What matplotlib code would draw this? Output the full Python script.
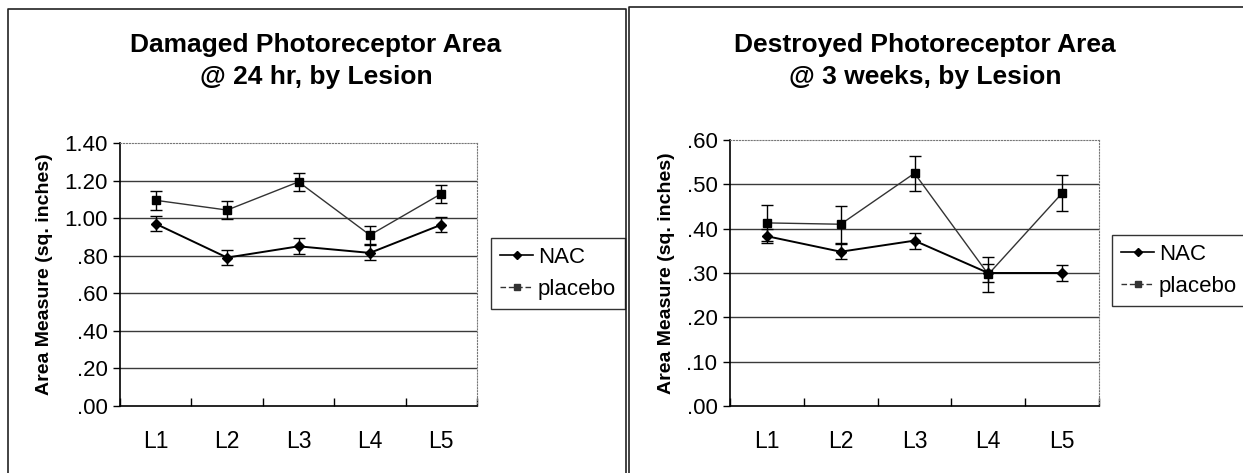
import matplotlib
matplotlib.use("Agg")
import matplotlib.pyplot as plt
from matplotlib.lines import Line2D
import numpy as np

plt.rcParams['font.family'] = ['Liberation Sans', 'DejaVu Sans']

lesions = ["L1", "L2", "L3", "L4", "L5"]

# Panel 1: Damaged @ 24 hr
dam_nac = [0.97, 0.79, 0.85, 0.815, 0.965]
dam_nac_err = [0.04, 0.042, 0.042, 0.04, 0.04]
dam_pla = [1.095, 1.043, 1.193, 0.91, 1.13]
dam_pla_err = [0.05, 0.05, 0.048, 0.05, 0.048]

# Panel 2: Destroyed @ 3 weeks
des_nac = [0.383, 0.348, 0.373, 0.30, 0.30]
des_nac_err = [0.016, 0.017, 0.018, 0.02, 0.018]
des_pla = [0.413, 0.41, 0.525, 0.297, 0.48]
des_pla_err = [0.04, 0.042, 0.04, 0.04, 0.04]

titles = ["Damaged Photoreceptor Area\n@ 24 hr, by Lesion",
          "Destroyed Photoreceptor Area\n@ 3 weeks, by Lesion"]
yticks1 = [0.0, 0.2, 0.4, 0.6, 0.8, 1.0, 1.2, 1.4]
yticklabels1 = [".00", ".20", ".40", ".60", ".80", "1.00", "1.20", "1.40"]
yticks2 = [0.0, 0.1, 0.2, 0.3, 0.4, 0.5, 0.6]
yticklabels2 = [".00", ".10", ".20", ".30", ".40", ".50", ".60"]

W, H = 1243, 473
fig = plt.figure(figsize=(W / 100, H / 100), dpi=100)

def fx(x):
    return x / W

def fy(y):
    return 1 - y / H

def fig_line(xs, ys, **kw):
    fig.add_artist(Line2D([fx(v) for v in xs], [fy(v) for v in ys],
                          transform=fig.transFigure, **kw))

# panel borders
fig_line([7.5, 7.5, 625.5, 625.5], [H, 9.5, 9.5, H], color='#222222', lw=1.2)
fig_line([628.5, 628.5, W], [H, 7.5, 7.5], color='#222222', lw=1.2)

def px_axes(x0, y0, x1, y1):
    return fig.add_axes([fx(x0), fy(y1), (x1 - x0) / W, (y1 - y0) / H])

def draw_panel(ax, nac, nac_err, pla, pla_err, yticks, ylabels, ymax, title, tx, lx, ly):
    x = np.arange(len(lesions)) + 0.5
    for yv in yticks[1:-1]:
        ax.axhline(yv, color='#3a3a3a', lw=1.0, zorder=1)
    ax.errorbar(x, pla, yerr=pla_err, color='#333333', lw=1.0, marker='s', ms=6,
                mfc='black', mec='black', ecolor='black', elinewidth=1.0,
                capsize=4, capthick=1.0, zorder=3)
    ax.errorbar(x, nac, yerr=nac_err, color='black', lw=1.4, marker='D', ms=5,
                mfc='black', mec='black', ecolor='black', elinewidth=1.0,
                capsize=4, capthick=1.0, zorder=4)
    ax.set_xlim(0, len(lesions))
    ax.set_ylim(0, ymax)
    ax.set_xticks(np.arange(len(lesions) + 1))
    ax.set_xticklabels([])
    ax.set_xticks(x, minor=True)
    ax.set_xticklabels(lesions, minor=True, fontsize=16.5)
    ax.tick_params(axis='x', which='minor', length=0, pad=17)
    ax.tick_params(axis='x', which='major', direction='in', length=6, width=1)
    ax.set_yticks(yticks)
    ax.set_yticklabels(ylabels, fontsize=16)
    ax.tick_params(axis='y', direction='out', length=5, width=1, pad=4)
    ax.spines['top'].set_linestyle(':')
    ax.spines['right'].set_linestyle(':')
    ax.spines['top'].set_color('#777777')
    ax.spines['right'].set_color('#777777')
    ax.spines['left'].set_linewidth(1.2)
    ax.spines['bottom'].set_linewidth(1.2)
    ax.set_ylabel("Area Measure (sq. inches)", fontsize=14, fontweight='bold',
                  labelpad=8)
    fig.text(fx(tx), fy(61), title, ha='center', va='center', fontsize=19,
             fontweight='bold', linespacing=1.45)
    handles = [Line2D([], [], color='black', lw=1.2, marker='D', ms=4),
               Line2D([], [], color='#333333', lw=1.0, ls=(0, (4, 2)), marker='s', ms=4)]
    fig.legend(handles, ["NAC", "placebo"], loc='upper left',
               bbox_to_anchor=(fx(lx), fy(ly)), frameon=True, fancybox=False,
               edgecolor='black', fontsize=16, handlelength=1.5, handletextpad=0.2,
               borderpad=0.4, labelspacing=0.5, borderaxespad=0)

ax1 = px_axes(120, 143, 477, 406)
draw_panel(ax1, dam_nac, dam_nac_err, dam_pla, dam_pla_err, yticks1, yticklabels1, 1.4,
           titles[0], 316, 491, 238)
ax2 = px_axes(730, 140, 1099, 406)
draw_panel(ax2, des_nac, des_nac_err, des_pla, des_pla_err, yticks2, yticklabels2, 0.6,
           titles[1], 925, 1112, 235)

fig.savefig("out.png", dpi=100)
